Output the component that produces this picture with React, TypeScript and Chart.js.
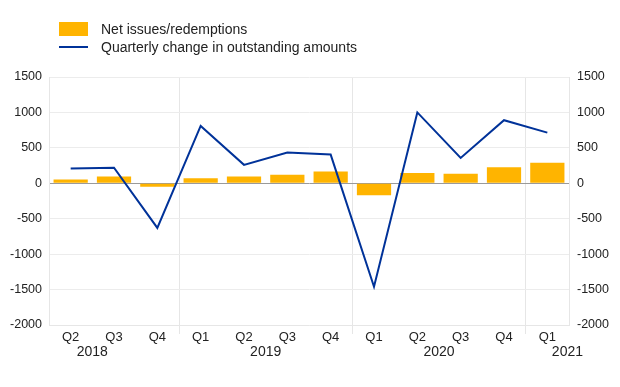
import React, { useEffect, useRef } from "react";
import { Chart, registerables } from "chart.js";

Chart.register(...registerables);

const categories = ["Q2", "Q3", "Q4", "Q1", "Q2", "Q3", "Q4", "Q1", "Q2", "Q3", "Q4", "Q1"];
const years = ["2018", "2019", "2020", "2021"];
// index (in categories) of the Q1 of each year; 2018 starts before the first category
const yearQ1Index = [-1, 3, 7, 11];
const netIssues = [55, 95, -50, 70, 95, 120, 165, -170, 145, 135, 225, 290];
const quarterlyChange = [210, 220, -630, 810, 260, 435, 405, -1460, 1000, 357, 890, 715];
const yTicksMin = -2000;
const yTicksMax = 1500;
const yStep = 500;

const FONT = "'Liberation Sans', Arial, Helvetica, sans-serif";
const ORANGE = "#FFB400";
const BLUE = "#003299";

const yearLabelsPlugin = {
  id: "yearLabels",
  afterDraw(chart: any) {
    const x = chart.scales.x;
    const area = chart.chartArea;
    const ctx = chart.ctx;
    ctx.save();
    ctx.font = `14px ${FONT}`;
    ctx.fillStyle = "#222";
    ctx.textAlign = "center";
    ctx.textBaseline = "middle";
    const step = x.getPixelForValue(1) - x.getPixelForValue(0);
    years.forEach((y, i) => {
      let cx = x.getPixelForValue(0) + (yearQ1Index[i] + 1.5) * step;
      const w = ctx.measureText(y).width;
      const maxRight = area.right + 14;
      if (cx + w / 2 > maxRight) cx = maxRight - w / 2;
      ctx.fillText(y, cx, 352);
    });
    ctx.restore();
  },
};

export default function App() {
  const ref = useRef<HTMLCanvasElement>(null);
  useEffect(() => {
    const chart = new Chart(ref.current!, {
      type: "bar",
      data: {
        labels: categories,
        datasets: [
          {
            type: "line",
            label: "Quarterly change in outstanding amounts",
            data: quarterlyChange,
            borderColor: BLUE,
            backgroundColor: BLUE,
            borderWidth: 2,
            pointRadius: 0,
            tension: 0,
            order: 0,
          } as any,
          {
            type: "bar",
            label: "Net issues/redemptions",
            data: netIssues,
            backgroundColor: ORANGE,
            borderWidth: 0,
            barPercentage: 0.79,
            categoryPercentage: 1,
            order: 1,
          },
        ],
      },
      options: {
        animation: false,
        responsive: false,
        layout: { padding: { top: 77, left: 0, right: 0, bottom: 0 } },
        plugins: { legend: { display: false }, tooltip: { enabled: false } },
        scales: {
          x: {
            type: "category",
            offset: true,
            afterFit: (s: any) => {
              s.height = 62;
            },
            grid: {
              offset: true,
              drawTicks: true,
              tickLength: 9,
              color: (c: any) => {
                const i = c.index;
                if (i === undefined || i <= 0 || i >= categories.length) return "rgba(0,0,0,0)";
                return categories[i] === "Q1" ? "#e6e6e6" : "rgba(0,0,0,0)";
              },
            },
            border: { display: true, color: "#e6e6e6" },
            ticks: {
              font: { family: FONT, size: 13 },
              color: "#222",
              padding: -4,
              maxRotation: 0,
              autoSkip: false,
            },
          },
          y: {
            position: "left",
            min: yTicksMin,
            max: yTicksMax,
            afterFit: (s: any) => {
              s.width = 49;
            },
            grid: {
              drawTicks: false,
              color: (c: any) => (c.tick && c.tick.value === 0 ? "#9a9a9a" : "#ececec"),
            },
            border: { display: true, color: "#e6e6e6" },
            ticks: {
              stepSize: yStep,
              padding: 7,
              font: { family: FONT, size: 12.5 },
              color: "#222",
              callback: (v: any) => String(v),
            },
          },
          y2: {
            position: "right",
            min: yTicksMin,
            max: yTicksMax,
            afterFit: (s: any) => {
              s.width = 51;
            },
            grid: { display: false, drawTicks: false },
            border: { display: true, color: "#e6e6e6" },
            ticks: {
              stepSize: yStep,
              padding: 8,
              font: { family: FONT, size: 12.5 },
              color: "#222",
              callback: (v: any) => String(v),
            },
          },
        },
      },
      plugins: [yearLabelsPlugin],
    });
    return () => chart.destroy();
  }, []);

  return (
    <div
      style={{
        position: "absolute",
        left: 0,
        top: 0,
        width: 620,
        height: 387,
        background: "#fff",
        fontFamily: FONT,
      }}
    >
      <canvas ref={ref} width={620} height={387} style={{ position: "absolute", left: 0, top: 0 }} />
      <div style={{ position: "absolute", left: 59, top: 22, width: 29, height: 14, background: ORANGE }} />
      <div
        style={{
          position: "absolute",
          left: 101,
          top: 20,
          fontSize: 14,
          lineHeight: "18px",
          color: "#222",
          whiteSpace: "nowrap",
        }}
      >
        Net issues/redemptions
      </div>
      <div style={{ position: "absolute", left: 59, top: 46, width: 29, height: 2, background: BLUE }} />
      <div
        style={{
          position: "absolute",
          left: 101,
          top: 38,
          fontSize: 14,
          lineHeight: "18px",
          color: "#222",
          whiteSpace: "nowrap",
        }}
      >
        Quarterly change in outstanding amounts
      </div>
    </div>
  );
}
